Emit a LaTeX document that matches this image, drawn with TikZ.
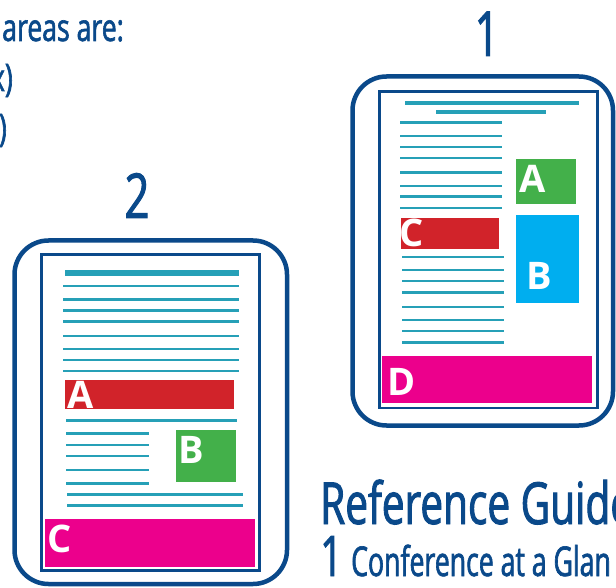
\documentclass[tikz,border=0pt]{standalone}
\usepackage{fontspec}
\setmainfont{Open Sans}
\newfontfamily\condf[FakeStretch=0.7,FakeBold=1.6]{Open Sans}
\newfontfamily\condnf[FakeStretch=0.65,FakeBold=1.6]{Open Sans}
\newfontfamily\lettf{Open Sans}
\definecolor{navy}{RGB}{10,73,138}
\definecolor{lineteal}{RGB}{38,160,183}
\definecolor{boxred}{RGB}{209,35,42}
\definecolor{boxgreen}{RGB}{67,176,74}
\definecolor{boxblue}{RGB}{0,174,239}
\definecolor{boxmag}{RGB}{236,0,140}
\begin{document}
\begin{tikzpicture}[x=1pt,y=-1pt,
  frame/.style={draw=navy, line width=4.5pt, rounded corners=34pt, anchor=north west, inner sep=0pt, outer sep=0pt},
  page/.style={draw=navy, line width=2.5pt, anchor=north west, inner sep=0pt, outer sep=0pt},
  txt/.style={draw=lineteal, line width=2.4pt},
  ttl/.style={draw=lineteal, line width=3.6pt},
  blk/.style={anchor=north west, inner sep=0pt, outer sep=0pt},
  lbl/.style={text=white, font=\lettf\bfseries\fontsize{38}{38}\selectfont, inner sep=0pt, anchor=base west},
  head/.style={text=navy, inner sep=0pt}]
\useasboundingbox (0,0) rectangle (616,588);
\clip (0,0) rectangle (616,588);
\fill[white] (0,0) rectangle (616,588);

% top-left text
\node[head, anchor=base east, font=\condf\fontsize{38}{38}\selectfont] (t1) at (124,41) {areas are:};
\node[head, anchor=base east, font=\condf\fontsize{38}{38}\selectfont] (t2) at (13,91) {x)};
\node[head, anchor=base east, font=\condf\fontsize{38}{38}\selectfont] (t3) at (7,141) {)};

% numbers
\node[head, anchor=base, font=\condf\fontsize{62}{62}\selectfont] (n1) at (487,56) {1};
\node[head, anchor=base, font=\condf\fontsize{62}{62}\selectfont] (n2) at (137,218) {2};

% device 1
\node[frame, minimum width=260.5pt, minimum height=349pt] (dev1) at (352.5,76.5) {};
\node[page, minimum width=217.8pt, minimum height=316.7pt] (page1) at (379.5,91.3) {};
\draw[ttl] (405,103) -- (579,103);
\draw[ttl] (436,112) -- (546,112);
\foreach \y in {122.7,136.3,147.3,158.3,172.7,186,196.7,208}
  \draw[txt] (400,\y) -- (502,\y);
\foreach \y in {257,270.3,281.3,292.3,306.7,320,331,342.3}
  \draw[txt] (402,\y) -- (504,\y);
\node[blk, fill=boxgreen, minimum width=60pt, minimum height=45.3pt] (a1) at (516,158.7) {};
\node[blk, fill=boxblue, minimum width=63pt, minimum height=87.7pt] (b1) at (516,215) {};
\node[blk, fill=boxred, minimum width=98pt, minimum height=31pt] (c1) at (401,218) {};
\node[blk, fill=boxmag, minimum width=210pt, minimum height=47.3pt] (d1) at (382,356) {};
\node[lbl] (la1) at (519,193) {A};
\node[lbl] (lb1) at (526,289) {B};
\node[lbl] (lc1) at (399,247) {C};
\node[lbl] (ld1) at (387,395.5) {D};

% device 2
\node[frame, minimum width=272.5pt, minimum height=343.5pt] (dev2) at (14.5,240.5) {};
\node[page, minimum width=218.2pt, minimum height=315.8pt] (page2) at (41.3,254.7) {};
\draw[draw=lineteal, line width=6pt] (65,273) -- (239,273);
\foreach \y in {286,299.3,310.3,321.3,336,349,360,371}
  \draw[txt] (63,\y) -- (239,\y);
\draw[txt] (66,420.3) -- (237,420.3);
\foreach \y in {433.3,444.7,455.7,470,483.3}
  \draw[txt] (66,\y) -- (149,\y);
\foreach \y in {494.3,505.3}
  \draw[txt] (67,\y) -- (243,\y);
\node[blk, fill=boxred, minimum width=169pt, minimum height=29pt] (a2) at (65,380) {};
\node[blk, fill=boxgreen, minimum width=60pt, minimum height=51.7pt] (b2) at (176,430) {};
\node[blk, fill=boxmag, minimum width=210pt, minimum height=47.7pt] (c2) at (45,519) {};
\node[lbl] (la2) at (67,408.5) {A};
\node[lbl] (lb2) at (178,463) {B};
\node[lbl] (lc2) at (47,552) {C};

% bottom-right title
\node[head, anchor=base west, font=\condf\fontsize{58}{58}\selectfont] (rg) at (320,524) {Reference Guide};
\node[head, anchor=base west, font=\condf\fontsize{56}{56}\selectfont] (one) at (320,576) {1};
\node[head, anchor=base west, font=\condnf\fontsize{41}{41}\selectfont] (cg) at (351,576) {Conference at a Glan};
\end{tikzpicture}
\end{document}
